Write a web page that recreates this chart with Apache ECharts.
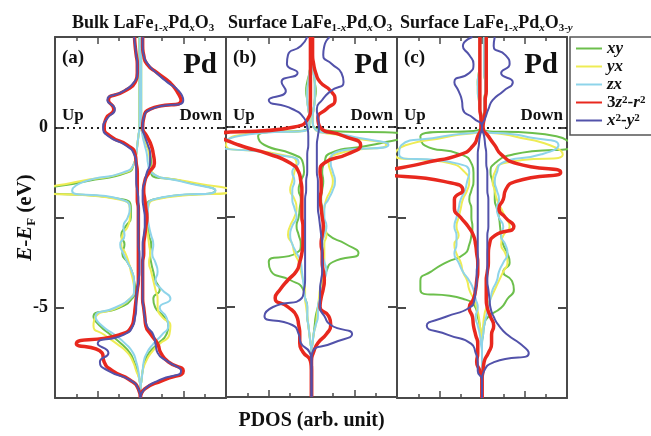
<!DOCTYPE html>
<html>
<head>
<meta charset="utf-8">
<script src="https://cdn.jsdelivr.net/npm/echarts@6/dist/echarts.min.js"></script>
<style>
html, body { margin: 0; background: #fff; }
#chart { width: 651px; height: 436px; }
</style>
</head>
<body>
<div id="chart"></div>
<script>
// energy grid (eV), top to bottom
const energies = [2.5, 2.25, 2, 1.75, 1.5, 1.25, 1, 0.75, 0.5, 0.25,
  0, -0.25, -0.5, -0.75, -1, -1.25, -1.5, -1.75, -2, -2.25,
  -2.5, -2.75, -3, -3.25, -3.5, -3.75, -4, -4.25, -4.5, -4.75,
  -5, -5.25, -5.5, -5.75, -6, -6.25, -6.5, -6.75, -7, -7.25, -7.5]
const orbitals = ['xy', 'yx', 'zx', '3z2-r2', 'x2-y2']
const colors = ['#6cbf4c', '#eeec55', '#8ed4ea', '#e8281e', '#5252aa']
const yTicks = [0, -5]

// (a) bulk -- up values are magnitudes, drawn to the left
const aXyUp = [0.05, 0.05, 0.05, 0.05, 0.05, 0.05, 0.05, 0.05, 0.05, 0.05,
  0.05, 0.1, 0.15, 0.2, 0.3, 0.6, 2.6, 4.5, 0.8, 0.45,
  0.45, 0.7, 0.9, 0.75, 0.85, 0.6, 0.4, 0.3, 0.25, 0.4,
  1.0, 2.2, 1.9, 1.4, 0.9, 0.5, 0.3, 0.15, 0.05, 0, 0]
const aXyDn = [0.03, 0.03, 0.03, 0.03, 0.03, 0.03, 0.03, 0.03, 0.03, 0.03,
  0.05, 0.15, 0.3, 0.45, 0.5, 0.5, 2.0, 3.5, 0.6, 0.3,
  0.3, 0.35, 0.4, 0.5, 0.45, 0.5, 0.6, 0.7, 0.9, 0.6,
  0.7, 1.1, 1.3, 1.2, 0.8, 0.4, 0.2, 0.1, 0.05, 0, 0]
const aYxUp = [0.04, 0.04, 0.04, 0.04, 0.04, 0.04, 0.04, 0.04, 0.04, 0.04,
  0.05, 0.1, 0.15, 0.2, 0.3, 0.7, 2.9, 4.6, 1.0, 0.5,
  0.5, 0.6, 0.85, 0.9, 0.7, 0.55, 0.45, 0.35, 0.3, 0.5,
  1.1, 2.1, 2.2, 1.7, 1.1, 0.6, 0.35, 0.2, 0.05, 0, 0]
const aYxDn = [0.03, 0.03, 0.03, 0.03, 0.03, 0.03, 0.03, 0.03, 0.03, 0.03,
  0.05, 0.15, 0.3, 0.4, 0.45, 0.55, 2.2, 4.2, 0.7, 0.35,
  0.3, 0.3, 0.35, 0.4, 0.45, 0.4, 0.5, 0.6, 0.7, 0.8,
  0.8, 1.0, 1.4, 1.35, 0.9, 0.5, 0.25, 0.1, 0.05, 0, 0]
const aZxUp = [0.04, 0.04, 0.04, 0.04, 0.04, 0.04, 0.04, 0.04, 0.04, 0.04,
  0.05, 0.1, 0.15, 0.2, 0.3, 0.8, 2.6, 3.2, 0.9, 0.5,
  0.6, 0.8, 0.75, 0.95, 0.8, 0.6, 0.4, 0.3, 0.3, 0.5,
  1.2, 2.1, 1.8, 1.2, 0.7, 0.35, 0.2, 0.1, 0.05, 0, 0]
const aZxDn = [0.03, 0.03, 0.03, 0.03, 0.03, 0.03, 0.03, 0.03, 0.03, 0.03,
  0.05, 0.1, 0.2, 0.3, 0.35, 0.5, 1.9, 3.5, 0.6, 0.35,
  0.35, 0.4, 0.5, 0.6, 0.55, 0.7, 0.8, 0.7, 1.0, 1.4,
  0.9, 1.2, 1.3, 1.0, 0.6, 0.3, 0.15, 0.1, 0.05, 0, 0]
const aRedUp = [0.28, 0.25, 0.2, 0.15, 0.15, 0.25, 0.75, 1.5, 1.25, 1.6,
  1.7, 1.4, 0.6, 0.25, 0.2, 0.15, 0.15, 0.15, 0.15, 0.1,
  0.1, 0.1, 0.1, 0.1, 0.1, 0.1, 0.1, 0.1, 0.15, 0.2,
  0.25, 0.3, 0.4, 1.0, 3.0, 1.8, 1.7, 1.3, 0.5, 0.1, 0]
const aRedDn = [0.1, 0.1, 0.15, 0.3, 0.8, 1.35, 1.7, 1.9, 0.45, 0.15,
  0.1, 0.3, 0.5, 0.6, 0.65, 0.4, 0.2, 0.15, 0.2, 0.25,
  0.3, 0.25, 0.2, 0.15, 0.15, 0.1, 0.1, 0.1, 0.1, 0.1,
  0.15, 0.2, 0.25, 0.5, 0.8, 0.95, 1.3, 2.0, 1.1, 0.2, 0]
const aBlueUp = [0.3, 0.25, 0.2, 0.15, 0.15, 0.3, 0.8, 1.55, 1.2, 1.55,
  1.75, 1.5, 0.7, 0.3, 0.2, 0.2, 0.2, 0.15, 0.1, 0.1,
  0.1, 0.1, 0.1, 0.1, 0.05, 0.05, 0.05, 0.1, 0.15, 0.2,
  0.2, 0.25, 0.35, 0.8, 2.0, 1.5, 1.9, 1.5, 0.5, 0.1, 0]
const aBlueDn = [0.1, 0.1, 0.15, 0.35, 0.75, 1.25, 1.8, 2.0, 0.5, 0.15,
  0.1, 0.2, 0.35, 0.45, 0.45, 0.3, 0.2, 0.1, 0.1, 0.15,
  0.2, 0.2, 0.15, 0.1, 0.1, 0.1, 0.1, 0.1, 0.1, 0.1,
  0.15, 0.2, 0.3, 0.6, 0.7, 0.8, 1.3, 1.9, 0.9, 0.2, 0]

// (b) surface
const bXyUp = [0.05, 0.05, 0.05, 0.05, 0.1, 0.2, 0.25, 0.2, 0.15, 0.1,
  0.1, 2.5, 2.2, 0.9, 0.4, 0.35, 0.5, 0.6, 0.5, 0.55,
  0.6, 0.7, 0.6, 0.5, 0.7, 2.0, 1.9, 1.0, 0.4, 0.3,
  0.2, 0.2, 0.15, 0.1, 0.05, 0, 0, 0, 0, 0, 0]
const bXyDn = [0.05, 0.05, 0.05, 0.05, 0.1, 0.15, 0.2, 0.15, 0.1, 0.05,
  0.1, 4.5, 2.8, 0.8, 0.6, 0.5, 0.55, 0.5, 0.45, 0.5,
  0.55, 0.6, 0.8, 1.6, 2.2, 1.0, 0.7, 0.6, 0.5, 0.4,
  0.3, 0.2, 0.15, 0.1, 0.05, 0, 0, 0, 0, 0, 0]
const bYxUp = [0.05, 0.05, 0.05, 0.05, 0.1, 0.15, 0.2, 0.2, 0.15, 0.1,
  0.1, 3.6, 4.0, 1.6, 0.7, 0.8, 0.9, 1.0, 0.8, 0.7,
  0.8, 1.0, 1.1, 0.9, 0.8, 0.6, 0.5, 0.4, 0.3, 0.3,
  0.25, 0.2, 0.15, 0.1, 0.05, 0, 0, 0, 0, 0, 0]
const bYxDn = [0.05, 0.05, 0.05, 0.05, 0.1, 0.15, 0.15, 0.15, 0.1, 0.05,
  0.1, 1.5, 3.5, 1.2, 0.8, 0.9, 1.0, 0.9, 0.7, 0.6,
  0.5, 0.6, 0.7, 0.6, 0.6, 0.6, 0.5, 0.5, 0.4, 0.35,
  0.3, 0.25, 0.2, 0.1, 0.05, 0, 0, 0, 0, 0, 0]
const bZxUp = [0.05, 0.05, 0.05, 0.05, 0.1, 0.15, 0.2, 0.2, 0.15, 0.1,
  0.1, 3.4, 4.2, 1.8, 0.6, 0.9, 0.8, 0.9, 0.9, 0.8,
  0.7, 0.9, 1.0, 0.9, 0.7, 0.5, 0.45, 0.4, 0.35, 0.3,
  0.2, 0.2, 0.15, 0.1, 0.05, 0, 0, 0, 0, 0, 0]
const bZxDn = [0.05, 0.05, 0.05, 0.05, 0.1, 0.15, 0.15, 0.15, 0.1, 0.05,
  0.1, 1.8, 3.6, 1.0, 0.9, 1.0, 1.1, 1.0, 0.8, 0.6,
  0.6, 0.7, 0.6, 0.5, 0.5, 0.6, 0.7, 0.6, 0.5, 0.4,
  0.3, 0.3, 0.2, 0.1, 0.05, 0, 0, 0, 0, 0, 0]
const bRedUp = [0.05, 0.05, 0.05, 0.05, 0.05, 0.05, 0.05, 0.05, 0.05, 0.15,
  0.8, 4.3, 3.4, 2.0, 1.0, 0.6, 0.5, 0.45, 0.45, 0.45,
  0.45, 0.4, 0.4, 0.4, 0.45, 0.55, 0.7, 1.1, 1.45, 1.7,
  1.1, 0.7, 0.6, 0.55, 0.55, 0.4, 0.05, 0, 0, 0, 0]
const bRedDn = [0.05, 0.05, 0.05, 0.1, 0.2, 0.4, 0.9, 1.1, 0.7, 0.3,
  0.4, 1.5, 2.3, 1.7, 0.6, 0.4, 0.45, 0.45, 0.4, 0.45,
  0.5, 0.55, 0.5, 0.45, 0.5, 0.5, 0.55, 0.6, 0.55, 0.45,
  0.4, 0.8, 0.9, 0.7, 0.3, 0.1, 0, 0, 0, 0, 0]
const bBlueUp = [0.2, 0.5, 1.1, 1.15, 0.65, 1.4, 1.2, 2.0, 0.9, 0.35,
  0.2, 0.15, 0.15, 0.2, 0.2, 0.2, 0.25, 0.25, 0.3, 0.3,
  0.3, 0.3, 0.3, 0.3, 0.3, 0.3, 0.3, 0.3, 0.35, 0.45,
  1.8, 2.2, 0.9, 0.6, 0.5, 0.1, 0, 0, 0, 0, 0]
const bBlueDn = [0.85, 0.6, 0.55, 0.95, 1.4, 1.5, 0.9, 0.5, 0.25, 0.3,
  0.35, 0.3, 0.25, 0.25, 0.25, 0.25, 0.3, 0.3, 0.3, 0.3,
  0.35, 0.4, 0.45, 0.5, 0.5, 0.5, 0.5, 0.45, 0.4, 0.4,
  0.4, 0.6, 0.9, 1.9, 1.0, 0.05, 0, 0, 0, 0, 0]

// (c) surface with O vacancy
const cXyUp = [0.1, 0.1, 0.1, 0.1, 0.15, 0.2, 0.15, 0.1, 0.1, 0.05,
  0, 2.9, 2.7, 1.0, 0.5, 0.4, 0.4, 0.5, 0.6, 0.5,
  0.5, 0.45, 0.5, 0.6, 0.8, 1.7, 2.4, 2.9, 2.9, 0.9,
  0.3, 0.2, 0.1, 0.05, 0, 0, 0, 0, 0, 0, 0]
const cXyDn = [0.1, 0.1, 0.1, 0.1, 0.1, 0.15, 0.15, 0.1, 0.1, 0.05,
  0, 3.5, 4.2, 1.5, 0.6, 0.4, 0.5, 0.6, 0.6, 0.7,
  0.8, 0.85, 0.9, 1.0, 1.2, 1.3, 1.0, 1.4, 1.5, 1.2,
  0.9, 0.3, 0.1, 0.05, 0, 0, 0, 0, 0, 0, 0]
const cYxUp = [0.1, 0.1, 0.1, 0.1, 0.15, 0.2, 0.2, 0.15, 0.1, 0.05,
  0, 1.5, 3.6, 4.1, 1.5, 0.8, 0.6, 0.7, 0.9, 1.0,
  1.1, 1.2, 1.1, 1.3, 1.2, 1.0, 0.9, 0.7, 0.6, 0.4,
  0.25, 0.15, 0.1, 0.05, 0, 0, 0, 0, 0, 0, 0]
const cYxDn = [0.1, 0.1, 0.1, 0.1, 0.1, 0.15, 0.15, 0.1, 0.1, 0.05,
  0, 1.5, 3.2, 3.8, 1.0, 0.6, 0.5, 0.6, 0.7, 0.9,
  1.1, 1.3, 1.0, 0.9, 1.1, 1.2, 1.0, 0.8, 0.6, 0.4,
  0.2, 0.1, 0.05, 0, 0, 0, 0, 0, 0, 0, 0]
const cZxUp = [0.1, 0.1, 0.1, 0.1, 0.15, 0.2, 0.2, 0.15, 0.1, 0.05,
  0, 1.8, 3.8, 3.9, 1.2, 0.6, 0.7, 0.8, 1.0, 1.1,
  1.2, 1.3, 1.2, 1.2, 1.3, 1.1, 0.9, 0.6, 0.4, 0.3,
  0.2, 0.3, 0.2, 0.1, 0.05, 0, 0, 0, 0, 0, 0]
const cZxDn = [0.1, 0.1, 0.1, 0.1, 0.1, 0.15, 0.15, 0.1, 0.1, 0.05,
  0, 2.0, 3.6, 2.8, 0.9, 0.7, 0.6, 0.7, 0.8, 0.7,
  0.8, 1.0, 0.9, 1.1, 1.2, 1.0, 0.8, 0.7, 0.5, 0.4,
  0.3, 0.2, 0.1, 0.05, 0, 0, 0, 0, 0, 0, 0]
const cRedUp = [0.1, 0.1, 0.1, 0.1, 0.1, 0.1, 0.1, 0.1, 0.1, 0.05,
  0.05, 0.2, 0.4, 1.0, 2.8, 4.4, 1.8, 0.9, 1.3, 1.3,
  1.0, 0.65, 0.4, 0.3, 0.25, 0.2, 0.2, 0.25, 0.3, 0.4,
  0.6, 0.45, 0.4, 0.3, 0.2, 0.2, 0.25, 0.1, 0, 0, 0]
const cRedDn = [0.2, 0.2, 0.2, 0.2, 0.2, 0.2, 0.2, 0.15, 0.15, 0.1,
  0.05, 0.3, 0.6, 0.9, 1.6, 3.7, 1.6, 1.1, 1.0, 0.8,
  1.1, 1.5, 0.6, 0.35, 0.3, 0.3, 0.25, 0.2, 0.2, 0.2,
  0.25, 0.4, 0.55, 0.45, 0.45, 0.3, 0.1, 0.05, 0, 0, 0]
const cBlueUp = [0.45, 0.9, 0.6, 0.4, 0.6, 1.3, 1.1, 0.95, 0.9, 0.4,
  0, 0.1, 0.15, 0.2, 0.2, 0.2, 0.2, 0.2, 0.2, 0.2,
  0.2, 0.2, 0.2, 0.2, 0.2, 0.2, 0.25, 0.25, 0.3, 0.35,
  0.6, 1.7, 2.6, 1.6, 0.5, 0.3, 0.2, 0.2, 0, 0, 0]
const cBlueDn = [0.6, 0.55, 1.1, 1.3, 0.9, 1.45, 1.0, 0.5, 0.3, 0.15,
  0, 0.1, 0.15, 0.2, 0.2, 0.25, 0.25, 0.25, 0.3, 0.3,
  0.3, 0.3, 0.25, 0.25, 0.25, 0.25, 0.25, 0.25, 0.3, 0.35,
  0.4, 0.55, 0.8, 1.2, 1.8, 2.2, 0.6, 0.1, 0, 0, 0]

const panels = [
  [[aXyUp, aXyDn], [aYxUp, aYxDn], [aZxUp, aZxDn], [aRedUp, aRedDn], [aBlueUp, aBlueDn]],
  [[bXyUp, bXyDn], [bYxUp, bYxDn], [bZxUp, bZxDn], [bRedUp, bRedDn], [bBlueUp, bBlueDn]],
  [[cXyUp, cXyDn], [cYxUp, cYxDn], [cZxUp, cZxDn], [cRedUp, cRedDn], [cBlueUp, cBlueDn]]
]
const panelTags = ['(a)', '(b)', '(c)']

const serif = 'Liberation Serif'
const frame = '#4a4a4a'
const panelLeft = [55, 226, 397]
const panelWidth = [171, 171, 170]
const plotTop = 37
const plotHeight = 361

const titleRich = {
  m: { fontFamily: serif, fontWeight: 'bold', fontSize: 18, lineHeight: 22, color: '#111' },
  s: { fontFamily: serif, fontWeight: 'bold', fontSize: 11, lineHeight: 11, verticalAlign: 'bottom', color: '#111' },
  si: { fontFamily: serif, fontWeight: 'bold', fontStyle: 'italic', fontSize: 11, lineHeight: 11, verticalAlign: 'bottom', color: '#111' }
}
const titles = [
  '{m|Bulk LaFe}{s|1-}{si|x}{m|Pd}{si|x}{m|O}{s|3}',
  '{m|Surface LaFe}{s|1-}{si|x}{m|Pd}{si|x}{m|O}{s|3}',
  '{m|Surface LaFe}{s|1-}{si|x}{m|Pd}{si|x}{m|O}{s|3-}{si|y}'
]
const titleLeft = [72, 228, 400]

const legendText = {
  'xy': '{i|xy}',
  'yx': '{i|yx}',
  'zx': '{i|zx}',
  '3z2-r2': '{n|3}{i|z}{p|2}{n|-}{i|r}{p|2}',
  'x2-y2': '{i|x}{p|2}{n|-}{i|y}{p|2}'
}

let grids = [], xAxes = [], yAxes = [], series = [], graphics = []

panels.forEach((curves, p) => {
  grids.push({ left: panelLeft[p], top: plotTop, width: panelWidth[p], height: plotHeight })
  ;['bottom', 'top'].forEach(pos => {
    xAxes.push({
      type: 'value', gridIndex: p, position: pos, min: -4, max: 4, interval: 2,
      axisLine: { show: true, onZero: false, lineStyle: { color: frame, width: 2 } },
      axisTick: { show: true, inside: true, length: 7, lineStyle: { color: frame, width: 1.5 } },
      minorTick: { show: true, splitNumber: 2, length: 4, lineStyle: { color: frame, width: 1.5 } },
      axisLabel: { show: false },
      splitLine: { show: false },
      name: (p === 1 && pos === 'bottom') ? 'PDOS (arb. unit)' : '',
      nameLocation: 'middle',
      nameGap: 14,
      nameTextStyle: { fontFamily: serif, fontWeight: 'bold', fontSize: 20, color: '#111' }
    })
  })
  ;['left', 'right'].forEach(pos => {
    const showLabel = p === 0 && pos === 'left'
    yAxes.push({
      type: 'value', gridIndex: p, position: pos, min: -7.5, max: 2.5, interval: 2.5,
      axisLine: { show: true, onZero: false, lineStyle: { color: frame, width: 2 } },
      axisTick: { show: true, inside: true, length: 9, lineStyle: { color: frame, width: 2 } },
      axisLabel: {
        show: showLabel, margin: 7,
        fontFamily: serif, fontWeight: 'bold', fontSize: 18, color: '#111',
        formatter: v => yTicks.includes(v) ? String(v) : ''
      },
      splitLine: { show: false },
      name: showLabel ? '{i|E}{n|-}{i|E}{s|F}{n| (eV)}' : '',
      nameLocation: 'middle',
      nameRotate: 90,
      nameGap: 17,
      nameMoveOverlap: false,
      nameTextStyle: {
        rich: {
          i: { fontFamily: serif, fontWeight: 'bold', fontStyle: 'italic', fontSize: 21, lineHeight: 24, color: '#111' },
          n: { fontFamily: serif, fontWeight: 'bold', fontSize: 21, lineHeight: 24, color: '#111' },
          s: { fontFamily: serif, fontWeight: 'bold', fontSize: 13, lineHeight: 13, verticalAlign: 'bottom', color: '#111' }
        }
      }
    })
  })

  curves.forEach((pair, o) => {
    pair.forEach((vals, k) => {
      const s = {
        name: orbitals[o],
        type: 'line',
        xAxisIndex: 2 * p,
        yAxisIndex: 2 * p,
        data: energies.map((e, i) => [k === 0 ? -vals[i] : vals[i], e]),
        symbol: 'none',
        smooth: 0.6,
        lineStyle: { color: colors[o], width: o === 3 ? 3.5 : 2 },
        itemStyle: { color: colors[o] },
        z: 2 + o
      }
      if (o === 0 && k === 0) {
        s.markLine = {
          silent: true, symbol: 'none', label: { show: false },
          lineStyle: { color: '#222', type: [2, 4], width: 2 },
          data: [{ yAxis: 0 }]
        }
      }
      series.push(s)
    })
  })

  const right = panelLeft[p] + panelWidth[p]
  graphics.push(
    { type: 'text', x: panelLeft[p] + 7, y: 58, z: 20,
      style: { text: panelTags[p], font: 'bold 19px "Liberation Serif"', fill: '#111', textAlign: 'left', textVerticalAlign: 'middle', align: 'left', verticalAlign: 'middle' } },
    { type: 'text', x: right - 9, y: 66, z: 20,
      style: { text: 'Pd', font: 'bold 29px "Liberation Serif"', fill: '#111', textAlign: 'right', textVerticalAlign: 'middle', align: 'right', verticalAlign: 'middle' } },
    { type: 'text', x: panelLeft[p] + 7, y: 116, z: 20,
      style: { text: 'Up', font: 'bold 17px "Liberation Serif"', fill: '#111', textAlign: 'left', textVerticalAlign: 'middle', align: 'left', verticalAlign: 'middle' } },
    { type: 'text', x: right - 4, y: 116, z: 20,
      style: { text: 'Down', font: 'bold 17px "Liberation Serif"', fill: '#111', textAlign: 'right', textVerticalAlign: 'middle', align: 'right', verticalAlign: 'middle' } }
  )
})

const chart = echarts.init(document.getElementById('chart'))
const option = {
  backgroundColor: '#fff',
  animation: false,
  title: titles.map((t, p) => ({ text: t, left: titleLeft[p], top: 12, padding: 0, textStyle: { rich: titleRich } })),
  legend: {
    data: orbitals,
    orient: 'vertical',
    left: 570,
    top: 37,
    itemWidth: 26,
    itemHeight: 12,
    itemGap: 1,
    padding: [3, 60, 6, 5],
    borderColor: '#555',
    borderWidth: 1.5,
    backgroundColor: '#fff',
    itemStyle: { opacity: 0 },
    formatter: n => legendText[n],
    textStyle: {
      rich: {
        i: { fontFamily: serif, fontWeight: 'bold', fontStyle: 'italic', fontSize: 17, lineHeight: 16, color: '#111' },
        n: { fontFamily: serif, fontWeight: 'bold', fontSize: 17, lineHeight: 16, color: '#111' },
        p: { fontFamily: serif, fontWeight: 'bold', fontSize: 11, lineHeight: 11, verticalAlign: 'top', color: '#111' }
      }
    }
  },
  grid: grids,
  xAxis: xAxes,
  yAxis: yAxes,
  series: series,
  graphic: graphics
}
chart.setOption(option)
</script>
</body>
</html>
